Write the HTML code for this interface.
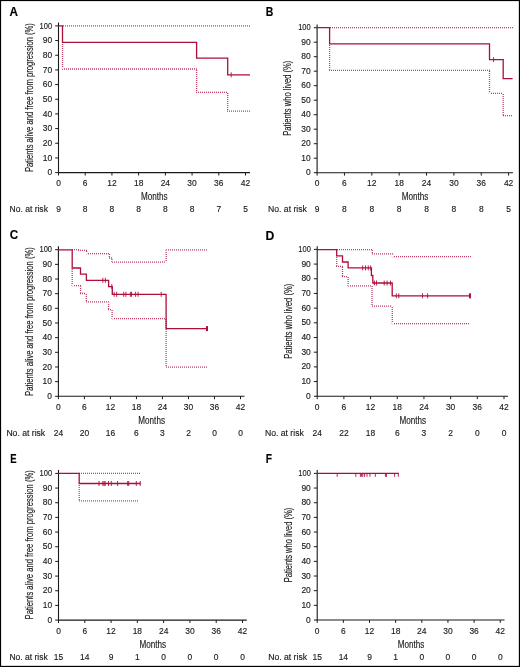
<!DOCTYPE html><html><head><meta charset="utf-8"><style>html,body{margin:0;padding:0;background:#fff;width:520px;height:667px;overflow:hidden}svg{display:block;will-change:transform}text{font-family:"Liberation Sans", sans-serif;stroke:#1a1a1a;stroke-width:0.14px}</style></head><body>
<svg width="520" height="667" viewBox="0 0 520 667">
<rect x="0" y="0" width="520" height="667" fill="#fff"/>
<g><text transform="translate(9.40 15.85) scale(0.960 1)" font-size="12.20" font-weight="bold" fill="#000">A</text><path d="M58.50 22.60V172.60H250.00" fill="none" stroke="#1a1a1a" stroke-width="1.1"/><path d="M55.20 172.60H58.50M55.20 157.93H58.50M55.20 143.26H58.50M55.20 128.59H58.50M55.20 113.92H58.50M55.20 99.25H58.50M55.20 84.58H58.50M55.20 69.91H58.50M55.20 55.24H58.50M55.20 40.57H58.50M55.20 25.90H58.50M58.50 172.60V175.50M85.21 172.60V175.50M111.93 172.60V175.50M138.64 172.60V175.50M165.36 172.60V175.50M192.07 172.60V175.50M218.79 172.60V175.50M245.50 172.60V175.50" fill="none" stroke="#1a1a1a" stroke-width="1"/><text transform="translate(52.10 175.20) scale(0.950 1)" font-size="8.90" text-anchor="end" fill="#1a1a1a">0</text><text transform="translate(52.10 160.53) scale(0.950 1)" font-size="8.90" text-anchor="end" fill="#1a1a1a">10</text><text transform="translate(52.10 145.86) scale(0.950 1)" font-size="8.90" text-anchor="end" fill="#1a1a1a">20</text><text transform="translate(52.10 131.19) scale(0.950 1)" font-size="8.90" text-anchor="end" fill="#1a1a1a">30</text><text transform="translate(52.10 116.52) scale(0.950 1)" font-size="8.90" text-anchor="end" fill="#1a1a1a">40</text><text transform="translate(52.10 101.85) scale(0.950 1)" font-size="8.90" text-anchor="end" fill="#1a1a1a">50</text><text transform="translate(52.10 87.18) scale(0.950 1)" font-size="8.90" text-anchor="end" fill="#1a1a1a">60</text><text transform="translate(52.10 72.51) scale(0.950 1)" font-size="8.90" text-anchor="end" fill="#1a1a1a">70</text><text transform="translate(52.10 57.84) scale(0.950 1)" font-size="8.90" text-anchor="end" fill="#1a1a1a">80</text><text transform="translate(52.10 43.17) scale(0.950 1)" font-size="8.90" text-anchor="end" fill="#1a1a1a">90</text><text transform="translate(52.10 28.50) scale(0.950 1)" font-size="8.90" text-anchor="end" fill="#1a1a1a" textLength="13.2" lengthAdjust="spacingAndGlyphs">100</text><text transform="translate(58.50 186.20) scale(0.950 1)" font-size="8.90" text-anchor="middle" fill="#1a1a1a">0</text><text transform="translate(85.21 186.20) scale(0.950 1)" font-size="8.90" text-anchor="middle" fill="#1a1a1a">6</text><text transform="translate(111.93 186.20) scale(0.950 1)" font-size="8.90" text-anchor="middle" fill="#1a1a1a">12</text><text transform="translate(138.64 186.20) scale(0.950 1)" font-size="8.90" text-anchor="middle" fill="#1a1a1a">18</text><text transform="translate(165.36 186.20) scale(0.950 1)" font-size="8.90" text-anchor="middle" fill="#1a1a1a">24</text><text transform="translate(192.07 186.20) scale(0.950 1)" font-size="8.90" text-anchor="middle" fill="#1a1a1a">30</text><text transform="translate(218.79 186.20) scale(0.950 1)" font-size="8.90" text-anchor="middle" fill="#1a1a1a">36</text><text transform="translate(245.50 186.20) scale(0.950 1)" font-size="8.90" text-anchor="middle" fill="#1a1a1a">42</text><text x="154.20" y="200.10" font-size="10.00" text-anchor="middle" fill="#1a1a1a" textLength="26.6" lengthAdjust="spacingAndGlyphs">Months</text><text x="9.50" y="212.20" font-size="8.5" fill="#1a1a1a" textLength="38.40" lengthAdjust="spacingAndGlyphs">No. at risk</text><text transform="translate(58.50 212.20) scale(0.950 1)" font-size="8.90" text-anchor="middle" fill="#1a1a1a">9</text><text transform="translate(85.21 212.20) scale(0.950 1)" font-size="8.90" text-anchor="middle" fill="#1a1a1a">8</text><text transform="translate(111.93 212.20) scale(0.950 1)" font-size="8.90" text-anchor="middle" fill="#1a1a1a">8</text><text transform="translate(138.64 212.20) scale(0.950 1)" font-size="8.90" text-anchor="middle" fill="#1a1a1a">8</text><text transform="translate(165.36 212.20) scale(0.950 1)" font-size="8.90" text-anchor="middle" fill="#1a1a1a">8</text><text transform="translate(192.07 212.20) scale(0.950 1)" font-size="8.90" text-anchor="middle" fill="#1a1a1a">8</text><text transform="translate(218.79 212.20) scale(0.950 1)" font-size="8.90" text-anchor="middle" fill="#1a1a1a">7</text><text transform="translate(245.50 212.20) scale(0.950 1)" font-size="8.90" text-anchor="middle" fill="#1a1a1a">5</text><text transform="translate(33.00 172.10) rotate(-90)" x="0" y="0" font-size="10.00" fill="#1a1a1a" textLength="149.00" lengthAdjust="spacingAndGlyphs">Patients alive and free from progression (%)</text><path d="M63 25.25h1v1.30h-1zM65 25.25h1v1.30h-1zM67 25.25h1v1.30h-1zM69 25.25h1v1.30h-1zM71 25.25h1v1.30h-1zM73 25.25h1v1.30h-1zM75 25.25h1v1.30h-1zM77 25.25h1v1.30h-1zM79 25.25h1v1.30h-1zM81 25.25h1v1.30h-1zM83 25.25h1v1.30h-1zM85 25.25h1v1.30h-1zM87 25.25h1v1.30h-1zM89 25.25h1v1.30h-1zM91 25.25h1v1.30h-1zM93 25.25h1v1.30h-1zM95 25.25h1v1.30h-1zM97 25.25h1v1.30h-1zM99 25.25h1v1.30h-1zM101 25.25h1v1.30h-1zM103 25.25h1v1.30h-1zM105 25.25h1v1.30h-1zM107 25.25h1v1.30h-1zM109 25.25h1v1.30h-1zM111 25.25h1v1.30h-1zM113 25.25h1v1.30h-1zM115 25.25h1v1.30h-1zM117 25.25h1v1.30h-1zM119 25.25h1v1.30h-1zM121 25.25h1v1.30h-1zM123 25.25h1v1.30h-1zM125 25.25h1v1.30h-1zM127 25.25h1v1.30h-1zM129 25.25h1v1.30h-1zM131 25.25h1v1.30h-1zM133 25.25h1v1.30h-1zM135 25.25h1v1.30h-1zM137 25.25h1v1.30h-1zM139 25.25h1v1.30h-1zM141 25.25h1v1.30h-1zM143 25.25h1v1.30h-1zM145 25.25h1v1.30h-1zM147 25.25h1v1.30h-1zM149 25.25h1v1.30h-1zM151 25.25h1v1.30h-1zM153 25.25h1v1.30h-1zM155 25.25h1v1.30h-1zM157 25.25h1v1.30h-1zM159 25.25h1v1.30h-1zM161 25.25h1v1.30h-1zM163 25.25h1v1.30h-1zM165 25.25h1v1.30h-1zM167 25.25h1v1.30h-1zM169 25.25h1v1.30h-1zM171 25.25h1v1.30h-1zM173 25.25h1v1.30h-1zM175 25.25h1v1.30h-1zM177 25.25h1v1.30h-1zM179 25.25h1v1.30h-1zM181 25.25h1v1.30h-1zM183 25.25h1v1.30h-1zM185 25.25h1v1.30h-1zM187 25.25h1v1.30h-1zM189 25.25h1v1.30h-1zM191 25.25h1v1.30h-1zM193 25.25h1v1.30h-1zM195 25.25h1v1.30h-1zM197 25.25h1v1.30h-1zM199 25.25h1v1.30h-1zM201 25.25h1v1.30h-1zM203 25.25h1v1.30h-1zM205 25.25h1v1.30h-1zM207 25.25h1v1.30h-1zM209 25.25h1v1.30h-1zM211 25.25h1v1.30h-1zM213 25.25h1v1.30h-1zM215 25.25h1v1.30h-1zM217 25.25h1v1.30h-1zM219 25.25h1v1.30h-1zM221 25.25h1v1.30h-1zM223 25.25h1v1.30h-1zM225 25.25h1v1.30h-1zM227 25.25h1v1.30h-1zM229 25.25h1v1.30h-1zM231 25.25h1v1.30h-1zM233 25.25h1v1.30h-1zM235 25.25h1v1.30h-1zM237 25.25h1v1.30h-1zM239 25.25h1v1.30h-1zM241 25.25h1v1.30h-1zM243 25.25h1v1.30h-1zM245 25.25h1v1.30h-1zM247 25.25h1v1.30h-1zM249 25.25h1v1.30h-1zM61.85 44v1h1.30v-1zM61.85 46v1h1.30v-1zM61.85 48v1h1.30v-1zM61.85 50v1h1.30v-1zM61.85 52v1h1.30v-1zM61.85 54v1h1.30v-1zM61.85 56v1h1.30v-1zM61.85 58v1h1.30v-1zM61.85 60v1h1.30v-1zM61.85 62v1h1.30v-1zM61.85 64v1h1.30v-1zM61.85 66v1h1.30v-1zM61.85 68v1h1.30v-1zM62 68.35h1v1.30h-1zM64 68.35h1v1.30h-1zM66 68.35h1v1.30h-1zM68 68.35h1v1.30h-1zM70 68.35h1v1.30h-1zM72 68.35h1v1.30h-1zM74 68.35h1v1.30h-1zM76 68.35h1v1.30h-1zM78 68.35h1v1.30h-1zM80 68.35h1v1.30h-1zM82 68.35h1v1.30h-1zM84 68.35h1v1.30h-1zM86 68.35h1v1.30h-1zM88 68.35h1v1.30h-1zM90 68.35h1v1.30h-1zM92 68.35h1v1.30h-1zM94 68.35h1v1.30h-1zM96 68.35h1v1.30h-1zM98 68.35h1v1.30h-1zM100 68.35h1v1.30h-1zM102 68.35h1v1.30h-1zM104 68.35h1v1.30h-1zM106 68.35h1v1.30h-1zM108 68.35h1v1.30h-1zM110 68.35h1v1.30h-1zM112 68.35h1v1.30h-1zM114 68.35h1v1.30h-1zM116 68.35h1v1.30h-1zM118 68.35h1v1.30h-1zM120 68.35h1v1.30h-1zM122 68.35h1v1.30h-1zM124 68.35h1v1.30h-1zM126 68.35h1v1.30h-1zM128 68.35h1v1.30h-1zM130 68.35h1v1.30h-1zM132 68.35h1v1.30h-1zM134 68.35h1v1.30h-1zM136 68.35h1v1.30h-1zM138 68.35h1v1.30h-1zM140 68.35h1v1.30h-1zM142 68.35h1v1.30h-1zM144 68.35h1v1.30h-1zM146 68.35h1v1.30h-1zM148 68.35h1v1.30h-1zM150 68.35h1v1.30h-1zM152 68.35h1v1.30h-1zM154 68.35h1v1.30h-1zM156 68.35h1v1.30h-1zM158 68.35h1v1.30h-1zM160 68.35h1v1.30h-1zM162 68.35h1v1.30h-1zM164 68.35h1v1.30h-1zM166 68.35h1v1.30h-1zM168 68.35h1v1.30h-1zM170 68.35h1v1.30h-1zM172 68.35h1v1.30h-1zM174 68.35h1v1.30h-1zM176 68.35h1v1.30h-1zM178 68.35h1v1.30h-1zM180 68.35h1v1.30h-1zM182 68.35h1v1.30h-1zM184 68.35h1v1.30h-1zM186 68.35h1v1.30h-1zM188 68.35h1v1.30h-1zM190 68.35h1v1.30h-1zM192 68.35h1v1.30h-1zM194 68.35h1v1.30h-1zM196 68.35h1v1.30h-1zM195.95 70v1h1.30v-1zM195.95 72v1h1.30v-1zM195.95 74v1h1.30v-1zM195.95 76v1h1.30v-1zM195.95 78v1h1.30v-1zM195.95 80v1h1.30v-1zM195.95 82v1h1.30v-1zM195.95 84v1h1.30v-1zM195.95 86v1h1.30v-1zM195.95 88v1h1.30v-1zM195.95 90v1h1.30v-1zM196 91.65h1v1.30h-1zM198 91.65h1v1.30h-1zM200 91.65h1v1.30h-1zM202 91.65h1v1.30h-1zM204 91.65h1v1.30h-1zM206 91.65h1v1.30h-1zM208 91.65h1v1.30h-1zM210 91.65h1v1.30h-1zM212 91.65h1v1.30h-1zM214 91.65h1v1.30h-1zM216 91.65h1v1.30h-1zM218 91.65h1v1.30h-1zM220 91.65h1v1.30h-1zM222 91.65h1v1.30h-1zM224 91.65h1v1.30h-1zM226 91.65h1v1.30h-1zM227.05 93v1h1.30v-1zM227.05 95v1h1.30v-1zM227.05 97v1h1.30v-1zM227.05 99v1h1.30v-1zM227.05 101v1h1.30v-1zM227.05 103v1h1.30v-1zM227.05 105v1h1.30v-1zM227.05 107v1h1.30v-1zM227.05 109v1h1.30v-1zM227 110.55h1v1.30h-1zM229 110.55h1v1.30h-1zM231 110.55h1v1.30h-1zM233 110.55h1v1.30h-1zM235 110.55h1v1.30h-1zM237 110.55h1v1.30h-1zM239 110.55h1v1.30h-1zM241 110.55h1v1.30h-1zM243 110.55h1v1.30h-1zM245 110.55h1v1.30h-1zM247 110.55h1v1.30h-1zM249 110.55h1v1.30h-1z" fill="#ad0f3b" fill-opacity="0.80"/><path d="M58.50 25.90L62.50 25.90L62.50 42.30L196.60 42.30L196.60 58.20L227.70 58.20L227.70 74.80L250.00 74.80" fill="none" stroke="#ad0f3b" stroke-width="1.3"/><path d="M231.20 72.30V77.30" fill="none" stroke="#ad0f3b" stroke-width="0.9"/></g>
<g><text transform="translate(265.67 15.65) scale(0.860 1)" font-size="12.20" font-weight="bold" fill="#000">B</text><path d="M317.10 24.50V172.70H513.00" fill="none" stroke="#1a1a1a" stroke-width="1.1"/><path d="M313.80 172.70H317.10M313.80 158.20H317.10M313.80 143.70H317.10M313.80 129.20H317.10M313.80 114.70H317.10M313.80 100.20H317.10M313.80 85.70H317.10M313.80 71.20H317.10M313.80 56.70H317.10M313.80 42.20H317.10M313.80 27.70H317.10M317.10 172.70V175.60M344.46 172.70V175.60M371.81 172.70V175.60M399.17 172.70V175.60M426.53 172.70V175.60M453.89 172.70V175.60M481.24 172.70V175.60M508.60 172.70V175.60" fill="none" stroke="#1a1a1a" stroke-width="1"/><text transform="translate(310.70 175.30) scale(0.950 1)" font-size="8.90" text-anchor="end" fill="#1a1a1a">0</text><text transform="translate(310.70 160.80) scale(0.950 1)" font-size="8.90" text-anchor="end" fill="#1a1a1a">10</text><text transform="translate(310.70 146.30) scale(0.950 1)" font-size="8.90" text-anchor="end" fill="#1a1a1a">20</text><text transform="translate(310.70 131.80) scale(0.950 1)" font-size="8.90" text-anchor="end" fill="#1a1a1a">30</text><text transform="translate(310.70 117.30) scale(0.950 1)" font-size="8.90" text-anchor="end" fill="#1a1a1a">40</text><text transform="translate(310.70 102.80) scale(0.950 1)" font-size="8.90" text-anchor="end" fill="#1a1a1a">50</text><text transform="translate(310.70 88.30) scale(0.950 1)" font-size="8.90" text-anchor="end" fill="#1a1a1a">60</text><text transform="translate(310.70 73.80) scale(0.950 1)" font-size="8.90" text-anchor="end" fill="#1a1a1a">70</text><text transform="translate(310.70 59.30) scale(0.950 1)" font-size="8.90" text-anchor="end" fill="#1a1a1a">80</text><text transform="translate(310.70 44.80) scale(0.950 1)" font-size="8.90" text-anchor="end" fill="#1a1a1a">90</text><text transform="translate(310.70 30.30) scale(0.950 1)" font-size="8.90" text-anchor="end" fill="#1a1a1a" textLength="13.2" lengthAdjust="spacingAndGlyphs">100</text><text transform="translate(317.10 186.30) scale(0.950 1)" font-size="8.90" text-anchor="middle" fill="#1a1a1a">0</text><text transform="translate(344.46 186.30) scale(0.950 1)" font-size="8.90" text-anchor="middle" fill="#1a1a1a">6</text><text transform="translate(371.81 186.30) scale(0.950 1)" font-size="8.90" text-anchor="middle" fill="#1a1a1a">12</text><text transform="translate(399.17 186.30) scale(0.950 1)" font-size="8.90" text-anchor="middle" fill="#1a1a1a">18</text><text transform="translate(426.53 186.30) scale(0.950 1)" font-size="8.90" text-anchor="middle" fill="#1a1a1a">24</text><text transform="translate(453.89 186.30) scale(0.950 1)" font-size="8.90" text-anchor="middle" fill="#1a1a1a">30</text><text transform="translate(481.24 186.30) scale(0.950 1)" font-size="8.90" text-anchor="middle" fill="#1a1a1a">36</text><text transform="translate(508.60 186.30) scale(0.950 1)" font-size="8.90" text-anchor="middle" fill="#1a1a1a">42</text><text x="415.05" y="200.20" font-size="10.00" text-anchor="middle" fill="#1a1a1a" textLength="26.6" lengthAdjust="spacingAndGlyphs">Months</text><text x="268.10" y="212.30" font-size="8.5" fill="#1a1a1a" textLength="38.70" lengthAdjust="spacingAndGlyphs">No. at risk</text><text transform="translate(317.10 212.30) scale(0.950 1)" font-size="8.90" text-anchor="middle" fill="#1a1a1a">9</text><text transform="translate(344.46 212.30) scale(0.950 1)" font-size="8.90" text-anchor="middle" fill="#1a1a1a">8</text><text transform="translate(371.81 212.30) scale(0.950 1)" font-size="8.90" text-anchor="middle" fill="#1a1a1a">8</text><text transform="translate(399.17 212.30) scale(0.950 1)" font-size="8.90" text-anchor="middle" fill="#1a1a1a">8</text><text transform="translate(426.53 212.30) scale(0.950 1)" font-size="8.90" text-anchor="middle" fill="#1a1a1a">8</text><text transform="translate(453.89 212.30) scale(0.950 1)" font-size="8.90" text-anchor="middle" fill="#1a1a1a">8</text><text transform="translate(481.24 212.30) scale(0.950 1)" font-size="8.90" text-anchor="middle" fill="#1a1a1a">8</text><text transform="translate(508.60 212.30) scale(0.950 1)" font-size="8.90" text-anchor="middle" fill="#1a1a1a">5</text><text transform="translate(291.30 135.80) rotate(-90)" x="0" y="0" font-size="10.00" fill="#1a1a1a" textLength="75.10" lengthAdjust="spacingAndGlyphs">Patients who lived (%)</text><path d="M330 27.05h1v1.30h-1zM332 27.05h1v1.30h-1zM334 27.05h1v1.30h-1zM336 27.05h1v1.30h-1zM338 27.05h1v1.30h-1zM340 27.05h1v1.30h-1zM342 27.05h1v1.30h-1zM344 27.05h1v1.30h-1zM346 27.05h1v1.30h-1zM348 27.05h1v1.30h-1zM350 27.05h1v1.30h-1zM352 27.05h1v1.30h-1zM354 27.05h1v1.30h-1zM356 27.05h1v1.30h-1zM358 27.05h1v1.30h-1zM360 27.05h1v1.30h-1zM362 27.05h1v1.30h-1zM364 27.05h1v1.30h-1zM366 27.05h1v1.30h-1zM368 27.05h1v1.30h-1zM370 27.05h1v1.30h-1zM372 27.05h1v1.30h-1zM374 27.05h1v1.30h-1zM376 27.05h1v1.30h-1zM378 27.05h1v1.30h-1zM380 27.05h1v1.30h-1zM382 27.05h1v1.30h-1zM384 27.05h1v1.30h-1zM386 27.05h1v1.30h-1zM388 27.05h1v1.30h-1zM390 27.05h1v1.30h-1zM392 27.05h1v1.30h-1zM394 27.05h1v1.30h-1zM396 27.05h1v1.30h-1zM398 27.05h1v1.30h-1zM400 27.05h1v1.30h-1zM402 27.05h1v1.30h-1zM404 27.05h1v1.30h-1zM406 27.05h1v1.30h-1zM408 27.05h1v1.30h-1zM410 27.05h1v1.30h-1zM412 27.05h1v1.30h-1zM414 27.05h1v1.30h-1zM416 27.05h1v1.30h-1zM418 27.05h1v1.30h-1zM420 27.05h1v1.30h-1zM422 27.05h1v1.30h-1zM424 27.05h1v1.30h-1zM426 27.05h1v1.30h-1zM428 27.05h1v1.30h-1zM430 27.05h1v1.30h-1zM432 27.05h1v1.30h-1zM434 27.05h1v1.30h-1zM436 27.05h1v1.30h-1zM438 27.05h1v1.30h-1zM440 27.05h1v1.30h-1zM442 27.05h1v1.30h-1zM444 27.05h1v1.30h-1zM446 27.05h1v1.30h-1zM448 27.05h1v1.30h-1zM450 27.05h1v1.30h-1zM452 27.05h1v1.30h-1zM454 27.05h1v1.30h-1zM456 27.05h1v1.30h-1zM458 27.05h1v1.30h-1zM460 27.05h1v1.30h-1zM462 27.05h1v1.30h-1zM464 27.05h1v1.30h-1zM466 27.05h1v1.30h-1zM468 27.05h1v1.30h-1zM470 27.05h1v1.30h-1zM472 27.05h1v1.30h-1zM474 27.05h1v1.30h-1zM476 27.05h1v1.30h-1zM478 27.05h1v1.30h-1zM480 27.05h1v1.30h-1zM482 27.05h1v1.30h-1zM484 27.05h1v1.30h-1zM486 27.05h1v1.30h-1zM488 27.05h1v1.30h-1zM490 27.05h1v1.30h-1zM492 27.05h1v1.30h-1zM494 27.05h1v1.30h-1zM496 27.05h1v1.30h-1zM498 27.05h1v1.30h-1zM500 27.05h1v1.30h-1zM502 27.05h1v1.30h-1zM504 27.05h1v1.30h-1zM506 27.05h1v1.30h-1zM508 27.05h1v1.30h-1zM510 27.05h1v1.30h-1zM512 27.05h1v1.30h-1zM328.95 45v1h1.30v-1zM328.95 47v1h1.30v-1zM328.95 49v1h1.30v-1zM328.95 51v1h1.30v-1zM328.95 53v1h1.30v-1zM328.95 55v1h1.30v-1zM328.95 57v1h1.30v-1zM328.95 59v1h1.30v-1zM328.95 61v1h1.30v-1zM328.95 63v1h1.30v-1zM328.95 65v1h1.30v-1zM328.95 67v1h1.30v-1zM328.95 69v1h1.30v-1zM329 69.65h1v1.30h-1zM331 69.65h1v1.30h-1zM333 69.65h1v1.30h-1zM335 69.65h1v1.30h-1zM337 69.65h1v1.30h-1zM339 69.65h1v1.30h-1zM341 69.65h1v1.30h-1zM343 69.65h1v1.30h-1zM345 69.65h1v1.30h-1zM347 69.65h1v1.30h-1zM349 69.65h1v1.30h-1zM351 69.65h1v1.30h-1zM353 69.65h1v1.30h-1zM355 69.65h1v1.30h-1zM357 69.65h1v1.30h-1zM359 69.65h1v1.30h-1zM361 69.65h1v1.30h-1zM363 69.65h1v1.30h-1zM365 69.65h1v1.30h-1zM367 69.65h1v1.30h-1zM369 69.65h1v1.30h-1zM371 69.65h1v1.30h-1zM373 69.65h1v1.30h-1zM375 69.65h1v1.30h-1zM377 69.65h1v1.30h-1zM379 69.65h1v1.30h-1zM381 69.65h1v1.30h-1zM383 69.65h1v1.30h-1zM385 69.65h1v1.30h-1zM387 69.65h1v1.30h-1zM389 69.65h1v1.30h-1zM391 69.65h1v1.30h-1zM393 69.65h1v1.30h-1zM395 69.65h1v1.30h-1zM397 69.65h1v1.30h-1zM399 69.65h1v1.30h-1zM401 69.65h1v1.30h-1zM403 69.65h1v1.30h-1zM405 69.65h1v1.30h-1zM407 69.65h1v1.30h-1zM409 69.65h1v1.30h-1zM411 69.65h1v1.30h-1zM413 69.65h1v1.30h-1zM415 69.65h1v1.30h-1zM417 69.65h1v1.30h-1zM419 69.65h1v1.30h-1zM421 69.65h1v1.30h-1zM423 69.65h1v1.30h-1zM425 69.65h1v1.30h-1zM427 69.65h1v1.30h-1zM429 69.65h1v1.30h-1zM431 69.65h1v1.30h-1zM433 69.65h1v1.30h-1zM435 69.65h1v1.30h-1zM437 69.65h1v1.30h-1zM439 69.65h1v1.30h-1zM441 69.65h1v1.30h-1zM443 69.65h1v1.30h-1zM445 69.65h1v1.30h-1zM447 69.65h1v1.30h-1zM449 69.65h1v1.30h-1zM451 69.65h1v1.30h-1zM453 69.65h1v1.30h-1zM455 69.65h1v1.30h-1zM457 69.65h1v1.30h-1zM459 69.65h1v1.30h-1zM461 69.65h1v1.30h-1zM463 69.65h1v1.30h-1zM465 69.65h1v1.30h-1zM467 69.65h1v1.30h-1zM469 69.65h1v1.30h-1zM471 69.65h1v1.30h-1zM473 69.65h1v1.30h-1zM475 69.65h1v1.30h-1zM477 69.65h1v1.30h-1zM479 69.65h1v1.30h-1zM481 69.65h1v1.30h-1zM483 69.65h1v1.30h-1zM485 69.65h1v1.30h-1zM487 69.65h1v1.30h-1zM489 69.65h1v1.30h-1zM488.85 71v1h1.30v-1zM488.85 73v1h1.30v-1zM488.85 75v1h1.30v-1zM488.85 77v1h1.30v-1zM488.85 79v1h1.30v-1zM488.85 81v1h1.30v-1zM488.85 83v1h1.30v-1zM488.85 85v1h1.30v-1zM488.85 87v1h1.30v-1zM488.85 89v1h1.30v-1zM488.85 91v1h1.30v-1zM488.85 93v1h1.30v-1zM489 92.75h1v1.30h-1zM491 92.75h1v1.30h-1zM493 92.75h1v1.30h-1zM495 92.75h1v1.30h-1zM497 92.75h1v1.30h-1zM499 92.75h1v1.30h-1zM501 92.75h1v1.30h-1zM502.55 94v1h1.30v-1zM502.55 96v1h1.30v-1zM502.55 98v1h1.30v-1zM502.55 100v1h1.30v-1zM502.55 102v1h1.30v-1zM502.55 104v1h1.30v-1zM502.55 106v1h1.30v-1zM502.55 108v1h1.30v-1zM502.55 110v1h1.30v-1zM502.55 112v1h1.30v-1zM502.55 114v1h1.30v-1zM503 115.05h1v1.30h-1zM505 115.05h1v1.30h-1zM507 115.05h1v1.30h-1zM509 115.05h1v1.30h-1zM511 115.05h1v1.30h-1z" fill="#ad0f3b" fill-opacity="0.80"/><path d="M317.10 27.70L329.60 27.70L329.60 43.90L489.50 43.90L489.50 59.60L503.20 59.60L503.20 78.60L512.60 78.60" fill="none" stroke="#ad0f3b" stroke-width="1.3"/><path d="M493.60 57.10V62.10" fill="none" stroke="#ad0f3b" stroke-width="0.9"/></g>
<g><text transform="translate(9.80 239.45) scale(0.960 1)" font-size="12.20" font-weight="bold" fill="#000">C</text><path d="M58.40 246.20V396.30H244.50" fill="none" stroke="#1a1a1a" stroke-width="1.1"/><path d="M55.10 396.30H58.40M55.10 381.64H58.40M55.10 366.98H58.40M55.10 352.32H58.40M55.10 337.66H58.40M55.10 323.00H58.40M55.10 308.34H58.40M55.10 293.68H58.40M55.10 279.02H58.40M55.10 264.36H58.40M55.10 249.70H58.40M58.40 396.30V399.20M84.41 396.30V399.20M110.43 396.30V399.20M136.44 396.30V399.20M162.46 396.30V399.20M188.47 396.30V399.20M214.49 396.30V399.20M240.50 396.30V399.20" fill="none" stroke="#1a1a1a" stroke-width="1"/><text transform="translate(52.00 398.90) scale(0.950 1)" font-size="8.90" text-anchor="end" fill="#1a1a1a">0</text><text transform="translate(52.00 384.24) scale(0.950 1)" font-size="8.90" text-anchor="end" fill="#1a1a1a">10</text><text transform="translate(52.00 369.58) scale(0.950 1)" font-size="8.90" text-anchor="end" fill="#1a1a1a">20</text><text transform="translate(52.00 354.92) scale(0.950 1)" font-size="8.90" text-anchor="end" fill="#1a1a1a">30</text><text transform="translate(52.00 340.26) scale(0.950 1)" font-size="8.90" text-anchor="end" fill="#1a1a1a">40</text><text transform="translate(52.00 325.60) scale(0.950 1)" font-size="8.90" text-anchor="end" fill="#1a1a1a">50</text><text transform="translate(52.00 310.94) scale(0.950 1)" font-size="8.90" text-anchor="end" fill="#1a1a1a">60</text><text transform="translate(52.00 296.28) scale(0.950 1)" font-size="8.90" text-anchor="end" fill="#1a1a1a">70</text><text transform="translate(52.00 281.62) scale(0.950 1)" font-size="8.90" text-anchor="end" fill="#1a1a1a">80</text><text transform="translate(52.00 266.96) scale(0.950 1)" font-size="8.90" text-anchor="end" fill="#1a1a1a">90</text><text transform="translate(52.00 252.30) scale(0.950 1)" font-size="8.90" text-anchor="end" fill="#1a1a1a" textLength="13.2" lengthAdjust="spacingAndGlyphs">100</text><text transform="translate(58.40 409.90) scale(0.950 1)" font-size="8.90" text-anchor="middle" fill="#1a1a1a">0</text><text transform="translate(84.41 409.90) scale(0.950 1)" font-size="8.90" text-anchor="middle" fill="#1a1a1a">6</text><text transform="translate(110.43 409.90) scale(0.950 1)" font-size="8.90" text-anchor="middle" fill="#1a1a1a">12</text><text transform="translate(136.44 409.90) scale(0.950 1)" font-size="8.90" text-anchor="middle" fill="#1a1a1a">18</text><text transform="translate(162.46 409.90) scale(0.950 1)" font-size="8.90" text-anchor="middle" fill="#1a1a1a">24</text><text transform="translate(188.47 409.90) scale(0.950 1)" font-size="8.90" text-anchor="middle" fill="#1a1a1a">30</text><text transform="translate(214.49 409.90) scale(0.950 1)" font-size="8.90" text-anchor="middle" fill="#1a1a1a">36</text><text transform="translate(240.50 409.90) scale(0.950 1)" font-size="8.90" text-anchor="middle" fill="#1a1a1a">42</text><text x="151.65" y="423.80" font-size="10.00" text-anchor="middle" fill="#1a1a1a" textLength="26.6" lengthAdjust="spacingAndGlyphs">Months</text><text x="6.40" y="435.90" font-size="8.5" fill="#1a1a1a" textLength="38.80" lengthAdjust="spacingAndGlyphs">No. at risk</text><text transform="translate(58.40 435.90) scale(0.950 1)" font-size="8.90" text-anchor="middle" fill="#1a1a1a">24</text><text transform="translate(84.41 435.90) scale(0.950 1)" font-size="8.90" text-anchor="middle" fill="#1a1a1a">20</text><text transform="translate(110.43 435.90) scale(0.950 1)" font-size="8.90" text-anchor="middle" fill="#1a1a1a">16</text><text transform="translate(136.44 435.90) scale(0.950 1)" font-size="8.90" text-anchor="middle" fill="#1a1a1a">6</text><text transform="translate(162.46 435.90) scale(0.950 1)" font-size="8.90" text-anchor="middle" fill="#1a1a1a">3</text><text transform="translate(188.47 435.90) scale(0.950 1)" font-size="8.90" text-anchor="middle" fill="#1a1a1a">2</text><text transform="translate(214.49 435.90) scale(0.950 1)" font-size="8.90" text-anchor="middle" fill="#1a1a1a">0</text><text transform="translate(240.50 435.90) scale(0.950 1)" font-size="8.90" text-anchor="middle" fill="#1a1a1a">0</text><text transform="translate(33.20 395.90) rotate(-90)" x="0" y="0" font-size="10.00" fill="#1a1a1a" textLength="148.70" lengthAdjust="spacingAndGlyphs">Patients alive and free from progression (%)</text><path d="M72 249.05h1v1.30h-1zM74 249.05h1v1.30h-1zM76 249.05h1v1.30h-1zM78 249.05h1v1.30h-1zM78 249.65h1v1.30h-1zM80 249.65h1v1.30h-1zM82 249.65h1v1.30h-1zM84 249.65h1v1.30h-1zM86 249.65h1v1.30h-1zM85.95 251v1h1.30v-1zM85.95 253v1h1.30v-1zM86 252.95h1v1.30h-1zM88 252.95h1v1.30h-1zM90 252.95h1v1.30h-1zM92 252.95h1v1.30h-1zM94 252.95h1v1.30h-1zM96 252.95h1v1.30h-1zM98 252.95h1v1.30h-1zM100 252.95h1v1.30h-1zM102 252.95h1v1.30h-1zM104 252.95h1v1.30h-1zM106 252.95h1v1.30h-1zM108 252.95h1v1.30h-1zM108.75 254v1h1.30v-1zM108.75 256v1h1.30v-1zM109 257.35h1v1.30h-1zM111 257.35h1v1.30h-1zM111.35 259v1h1.30v-1zM111.35 261v1h1.30v-1zM112 261.45h1v1.30h-1zM114 261.45h1v1.30h-1zM116 261.45h1v1.30h-1zM118 261.45h1v1.30h-1zM120 261.45h1v1.30h-1zM122 261.45h1v1.30h-1zM124 261.45h1v1.30h-1zM126 261.45h1v1.30h-1zM128 261.45h1v1.30h-1zM130 261.45h1v1.30h-1zM132 261.45h1v1.30h-1zM134 261.45h1v1.30h-1zM136 261.45h1v1.30h-1zM138 261.45h1v1.30h-1zM140 261.45h1v1.30h-1zM142 261.45h1v1.30h-1zM144 261.45h1v1.30h-1zM146 261.45h1v1.30h-1zM148 261.45h1v1.30h-1zM150 261.45h1v1.30h-1zM152 261.45h1v1.30h-1zM154 261.45h1v1.30h-1zM156 261.45h1v1.30h-1zM158 261.45h1v1.30h-1zM160 261.45h1v1.30h-1zM162 261.45h1v1.30h-1zM164 261.45h1v1.30h-1zM165.55 250v1h1.30v-1zM165.55 252v1h1.30v-1zM165.55 254v1h1.30v-1zM165.55 256v1h1.30v-1zM165.55 258v1h1.30v-1zM165.55 260v1h1.30v-1zM166 249.25h1v1.30h-1zM168 249.25h1v1.30h-1zM170 249.25h1v1.30h-1zM172 249.25h1v1.30h-1zM174 249.25h1v1.30h-1zM176 249.25h1v1.30h-1zM178 249.25h1v1.30h-1zM180 249.25h1v1.30h-1zM182 249.25h1v1.30h-1zM184 249.25h1v1.30h-1zM186 249.25h1v1.30h-1zM188 249.25h1v1.30h-1zM190 249.25h1v1.30h-1zM192 249.25h1v1.30h-1zM194 249.25h1v1.30h-1zM196 249.25h1v1.30h-1zM198 249.25h1v1.30h-1zM200 249.25h1v1.30h-1zM202 249.25h1v1.30h-1zM204 249.25h1v1.30h-1zM206 249.25h1v1.30h-1zM71.55 269v1h1.30v-1zM71.55 271v1h1.30v-1zM71.55 273v1h1.30v-1zM71.55 275v1h1.30v-1zM71.55 277v1h1.30v-1zM71.55 279v1h1.30v-1zM71.55 281v1h1.30v-1zM71.55 283v1h1.30v-1zM71.55 285v1h1.30v-1zM72 284.95h1v1.30h-1zM74 284.95h1v1.30h-1zM76 284.95h1v1.30h-1zM78 284.95h1v1.30h-1zM80 284.95h1v1.30h-1zM79.95 286v1h1.30v-1zM79.95 288v1h1.30v-1zM79.95 290v1h1.30v-1zM79.95 292v1h1.30v-1zM80 292.85h1v1.30h-1zM82 292.85h1v1.30h-1zM84 292.85h1v1.30h-1zM85.65 294v1h1.30v-1zM85.65 296v1h1.30v-1zM85.65 298v1h1.30v-1zM85.65 300v1h1.30v-1zM86 301.15h1v1.30h-1zM88 301.15h1v1.30h-1zM90 301.15h1v1.30h-1zM92 301.15h1v1.30h-1zM94 301.15h1v1.30h-1zM96 301.15h1v1.30h-1zM98 301.15h1v1.30h-1zM100 301.15h1v1.30h-1zM102 301.15h1v1.30h-1zM104 301.15h1v1.30h-1zM106 301.15h1v1.30h-1zM108 301.15h1v1.30h-1zM107.95 302v1h1.30v-1zM107.95 304v1h1.30v-1zM107.95 306v1h1.30v-1zM107.95 308v1h1.30v-1zM108 308.95h1v1.30h-1zM110 308.95h1v1.30h-1zM111.45 310v1h1.30v-1zM111.45 312v1h1.30v-1zM111.45 314v1h1.30v-1zM111.45 316v1h1.30v-1zM111.45 318v1h1.30v-1zM112 317.95h1v1.30h-1zM114 317.95h1v1.30h-1zM116 317.95h1v1.30h-1zM118 317.95h1v1.30h-1zM120 317.95h1v1.30h-1zM122 317.95h1v1.30h-1zM124 317.95h1v1.30h-1zM126 317.95h1v1.30h-1zM128 317.95h1v1.30h-1zM130 317.95h1v1.30h-1zM132 317.95h1v1.30h-1zM134 317.95h1v1.30h-1zM136 317.95h1v1.30h-1zM138 317.95h1v1.30h-1zM140 317.95h1v1.30h-1zM142 317.95h1v1.30h-1zM144 317.95h1v1.30h-1zM146 317.95h1v1.30h-1zM148 317.95h1v1.30h-1zM150 317.95h1v1.30h-1zM152 317.95h1v1.30h-1zM154 317.95h1v1.30h-1zM156 317.95h1v1.30h-1zM158 317.95h1v1.30h-1zM160 317.95h1v1.30h-1zM162 317.95h1v1.30h-1zM164 317.95h1v1.30h-1zM165.45 319v1h1.30v-1zM165.45 321v1h1.30v-1zM165.45 323v1h1.30v-1zM165.45 325v1h1.30v-1zM165.45 327v1h1.30v-1zM165.45 329v1h1.30v-1zM165.45 331v1h1.30v-1zM165.45 333v1h1.30v-1zM165.45 335v1h1.30v-1zM165.45 337v1h1.30v-1zM165.45 339v1h1.30v-1zM165.45 341v1h1.30v-1zM165.45 343v1h1.30v-1zM165.45 345v1h1.30v-1zM165.45 347v1h1.30v-1zM165.45 349v1h1.30v-1zM165.45 351v1h1.30v-1zM165.45 353v1h1.30v-1zM165.45 355v1h1.30v-1zM165.45 357v1h1.30v-1zM165.45 359v1h1.30v-1zM165.45 361v1h1.30v-1zM165.45 363v1h1.30v-1zM165.45 365v1h1.30v-1zM166 366.45h1v1.30h-1zM168 366.45h1v1.30h-1zM170 366.45h1v1.30h-1zM172 366.45h1v1.30h-1zM174 366.45h1v1.30h-1zM176 366.45h1v1.30h-1zM178 366.45h1v1.30h-1zM180 366.45h1v1.30h-1zM182 366.45h1v1.30h-1zM184 366.45h1v1.30h-1zM186 366.45h1v1.30h-1zM188 366.45h1v1.30h-1zM190 366.45h1v1.30h-1zM192 366.45h1v1.30h-1zM194 366.45h1v1.30h-1zM196 366.45h1v1.30h-1zM198 366.45h1v1.30h-1zM200 366.45h1v1.30h-1zM202 366.45h1v1.30h-1zM204 366.45h1v1.30h-1zM206 366.45h1v1.30h-1z" fill="#ad0f3b" fill-opacity="0.80"/><path d="M58.40 249.80L72.20 249.80L72.20 268.00L80.50 268.00L80.50 274.20L86.40 274.20L86.40 280.30L108.60 280.30L108.60 286.60L112.30 286.60L112.30 294.30L166.10 294.30L166.10 328.60L207.00 328.60" fill="none" stroke="#ad0f3b" stroke-width="1.3"/><path d="M102.80 277.80V282.80M105.40 277.80V282.80M111.80 284.10V289.10M114.20 291.80V296.80M116.70 291.80V296.80M123.70 291.80V296.80M125.90 291.80V296.80M130.40 291.80V296.80M131.50 291.80V296.80M135.60 291.80V296.80M138.10 291.80V296.80M161.20 291.80V296.80" fill="none" stroke="#ad0f3b" stroke-width="0.9"/><rect x="206.00" y="326.10" width="2" height="5" fill="#ad0f3b"/></g>
<g><text transform="translate(265.57 239.85) scale(1.000 1)" font-size="12.20" font-weight="bold" fill="#000">D</text><path d="M317.20 246.20V396.25H508.00" fill="none" stroke="#1a1a1a" stroke-width="1.1"/><path d="M313.90 396.25H317.20M313.90 381.56H317.20M313.90 366.88H317.20M313.90 352.19H317.20M313.90 337.51H317.20M313.90 322.82H317.20M313.90 308.14H317.20M313.90 293.45H317.20M313.90 278.77H317.20M313.90 264.09H317.20M313.90 249.40H317.20M317.20 396.25V399.15M343.89 396.25V399.15M370.57 396.25V399.15M397.26 396.25V399.15M423.94 396.25V399.15M450.63 396.25V399.15M477.31 396.25V399.15M504.00 396.25V399.15" fill="none" stroke="#1a1a1a" stroke-width="1"/><text transform="translate(310.80 398.85) scale(0.950 1)" font-size="8.90" text-anchor="end" fill="#1a1a1a">0</text><text transform="translate(310.80 384.17) scale(0.950 1)" font-size="8.90" text-anchor="end" fill="#1a1a1a">10</text><text transform="translate(310.80 369.48) scale(0.950 1)" font-size="8.90" text-anchor="end" fill="#1a1a1a">20</text><text transform="translate(310.80 354.80) scale(0.950 1)" font-size="8.90" text-anchor="end" fill="#1a1a1a">30</text><text transform="translate(310.80 340.11) scale(0.950 1)" font-size="8.90" text-anchor="end" fill="#1a1a1a">40</text><text transform="translate(310.80 325.43) scale(0.950 1)" font-size="8.90" text-anchor="end" fill="#1a1a1a">50</text><text transform="translate(310.80 310.74) scale(0.950 1)" font-size="8.90" text-anchor="end" fill="#1a1a1a">60</text><text transform="translate(310.80 296.06) scale(0.950 1)" font-size="8.90" text-anchor="end" fill="#1a1a1a">70</text><text transform="translate(310.80 281.37) scale(0.950 1)" font-size="8.90" text-anchor="end" fill="#1a1a1a">80</text><text transform="translate(310.80 266.69) scale(0.950 1)" font-size="8.90" text-anchor="end" fill="#1a1a1a">90</text><text transform="translate(310.80 252.00) scale(0.950 1)" font-size="8.90" text-anchor="end" fill="#1a1a1a" textLength="13.2" lengthAdjust="spacingAndGlyphs">100</text><text transform="translate(317.20 409.85) scale(0.950 1)" font-size="8.90" text-anchor="middle" fill="#1a1a1a">0</text><text transform="translate(343.89 409.85) scale(0.950 1)" font-size="8.90" text-anchor="middle" fill="#1a1a1a">6</text><text transform="translate(370.57 409.85) scale(0.950 1)" font-size="8.90" text-anchor="middle" fill="#1a1a1a">12</text><text transform="translate(397.26 409.85) scale(0.950 1)" font-size="8.90" text-anchor="middle" fill="#1a1a1a">18</text><text transform="translate(423.94 409.85) scale(0.950 1)" font-size="8.90" text-anchor="middle" fill="#1a1a1a">24</text><text transform="translate(450.63 409.85) scale(0.950 1)" font-size="8.90" text-anchor="middle" fill="#1a1a1a">30</text><text transform="translate(477.31 409.85) scale(0.950 1)" font-size="8.90" text-anchor="middle" fill="#1a1a1a">36</text><text transform="translate(504.00 409.85) scale(0.950 1)" font-size="8.90" text-anchor="middle" fill="#1a1a1a">42</text><text x="412.80" y="423.75" font-size="10.00" text-anchor="middle" fill="#1a1a1a" textLength="26.6" lengthAdjust="spacingAndGlyphs">Months</text><text x="264.90" y="435.85" font-size="8.5" fill="#1a1a1a" textLength="38.90" lengthAdjust="spacingAndGlyphs">No. at risk</text><text transform="translate(317.20 435.85) scale(0.950 1)" font-size="8.90" text-anchor="middle" fill="#1a1a1a">24</text><text transform="translate(343.89 435.85) scale(0.950 1)" font-size="8.90" text-anchor="middle" fill="#1a1a1a">22</text><text transform="translate(370.57 435.85) scale(0.950 1)" font-size="8.90" text-anchor="middle" fill="#1a1a1a">18</text><text transform="translate(397.26 435.85) scale(0.950 1)" font-size="8.90" text-anchor="middle" fill="#1a1a1a">6</text><text transform="translate(423.94 435.85) scale(0.950 1)" font-size="8.90" text-anchor="middle" fill="#1a1a1a">3</text><text transform="translate(450.63 435.85) scale(0.950 1)" font-size="8.90" text-anchor="middle" fill="#1a1a1a">2</text><text transform="translate(477.31 435.85) scale(0.950 1)" font-size="8.90" text-anchor="middle" fill="#1a1a1a">0</text><text transform="translate(504.00 435.85) scale(0.950 1)" font-size="8.90" text-anchor="middle" fill="#1a1a1a">0</text><text transform="translate(291.80 358.80) rotate(-90)" x="0" y="0" font-size="10.00" fill="#1a1a1a" textLength="75.00" lengthAdjust="spacingAndGlyphs">Patients who lived (%)</text><path d="M337 248.95h1v1.30h-1zM339 248.95h1v1.30h-1zM341 248.95h1v1.30h-1zM343 248.95h1v1.30h-1zM345 248.95h1v1.30h-1zM347 248.95h1v1.30h-1zM349 248.95h1v1.30h-1zM351 248.95h1v1.30h-1zM353 248.95h1v1.30h-1zM355 248.95h1v1.30h-1zM357 248.95h1v1.30h-1zM359 248.95h1v1.30h-1zM361 248.95h1v1.30h-1zM363 248.95h1v1.30h-1zM365 248.95h1v1.30h-1zM367 248.95h1v1.30h-1zM369 248.95h1v1.30h-1zM371 248.95h1v1.30h-1zM371.65 250v1h1.30v-1zM371.65 252v1h1.30v-1zM372 253.15h1v1.30h-1zM374 253.15h1v1.30h-1zM376 253.15h1v1.30h-1zM378 253.15h1v1.30h-1zM380 253.15h1v1.30h-1zM382 253.15h1v1.30h-1zM384 253.15h1v1.30h-1zM386 253.15h1v1.30h-1zM388 253.15h1v1.30h-1zM390 253.15h1v1.30h-1zM392 253.15h1v1.30h-1zM391.85 254v1h1.30v-1zM391.85 256v1h1.30v-1zM392 255.95h1v1.30h-1zM394 255.95h1v1.30h-1zM396 255.95h1v1.30h-1zM398 255.95h1v1.30h-1zM400 255.95h1v1.30h-1zM402 255.95h1v1.30h-1zM404 255.95h1v1.30h-1zM406 255.95h1v1.30h-1zM408 255.95h1v1.30h-1zM410 255.95h1v1.30h-1zM412 255.95h1v1.30h-1zM414 255.95h1v1.30h-1zM416 255.95h1v1.30h-1zM418 255.95h1v1.30h-1zM420 255.95h1v1.30h-1zM422 255.95h1v1.30h-1zM424 255.95h1v1.30h-1zM426 255.95h1v1.30h-1zM428 255.95h1v1.30h-1zM430 255.95h1v1.30h-1zM432 255.95h1v1.30h-1zM434 255.95h1v1.30h-1zM436 255.95h1v1.30h-1zM438 255.95h1v1.30h-1zM440 255.95h1v1.30h-1zM442 255.95h1v1.30h-1zM444 255.95h1v1.30h-1zM446 255.95h1v1.30h-1zM448 255.95h1v1.30h-1zM450 255.95h1v1.30h-1zM452 255.95h1v1.30h-1zM454 255.95h1v1.30h-1zM456 255.95h1v1.30h-1zM458 255.95h1v1.30h-1zM460 255.95h1v1.30h-1zM462 255.95h1v1.30h-1zM464 255.95h1v1.30h-1zM466 255.95h1v1.30h-1zM468 255.95h1v1.30h-1zM470 255.95h1v1.30h-1zM336.05 257v1h1.30v-1zM336.05 259v1h1.30v-1zM336.05 261v1h1.30v-1zM336.05 263v1h1.30v-1zM336.05 265v1h1.30v-1zM336 265.65h1v1.30h-1zM338 265.65h1v1.30h-1zM340 265.65h1v1.30h-1zM342 265.65h1v1.30h-1zM341.85 267v1h1.30v-1zM341.85 269v1h1.30v-1zM341.85 271v1h1.30v-1zM341.85 273v1h1.30v-1zM341.85 275v1h1.30v-1zM342 276.05h1v1.30h-1zM344 276.05h1v1.30h-1zM346 276.05h1v1.30h-1zM347.45 277v1h1.30v-1zM347.45 279v1h1.30v-1zM347.45 281v1h1.30v-1zM347.45 283v1h1.30v-1zM347.45 285v1h1.30v-1zM348 285.15h1v1.30h-1zM350 285.15h1v1.30h-1zM352 285.15h1v1.30h-1zM354 285.15h1v1.30h-1zM356 285.15h1v1.30h-1zM358 285.15h1v1.30h-1zM360 285.15h1v1.30h-1zM362 285.15h1v1.30h-1zM364 285.15h1v1.30h-1zM366 285.15h1v1.30h-1zM368 285.15h1v1.30h-1zM370 285.15h1v1.30h-1zM371.35 286v1h1.30v-1zM371.35 288v1h1.30v-1zM371.35 290v1h1.30v-1zM371.35 292v1h1.30v-1zM371.35 294v1h1.30v-1zM371.35 296v1h1.30v-1zM371.35 298v1h1.30v-1zM371.35 300v1h1.30v-1zM371.35 302v1h1.30v-1zM371.35 304v1h1.30v-1zM372 305.55h1v1.30h-1zM374 305.55h1v1.30h-1zM376 305.55h1v1.30h-1zM378 305.55h1v1.30h-1zM380 305.55h1v1.30h-1zM382 305.55h1v1.30h-1zM384 305.55h1v1.30h-1zM386 305.55h1v1.30h-1zM388 305.55h1v1.30h-1zM390 305.55h1v1.30h-1zM391.65 307v1h1.30v-1zM391.65 309v1h1.30v-1zM391.65 311v1h1.30v-1zM391.65 313v1h1.30v-1zM391.65 315v1h1.30v-1zM391.65 317v1h1.30v-1zM391.65 319v1h1.30v-1zM391.65 321v1h1.30v-1zM391.65 323v1h1.30v-1zM392 322.95h1v1.30h-1zM394 322.95h1v1.30h-1zM396 322.95h1v1.30h-1zM398 322.95h1v1.30h-1zM400 322.95h1v1.30h-1zM402 322.95h1v1.30h-1zM404 322.95h1v1.30h-1zM406 322.95h1v1.30h-1zM408 322.95h1v1.30h-1zM410 322.95h1v1.30h-1zM412 322.95h1v1.30h-1zM414 322.95h1v1.30h-1zM416 322.95h1v1.30h-1zM418 322.95h1v1.30h-1zM420 322.95h1v1.30h-1zM422 322.95h1v1.30h-1zM424 322.95h1v1.30h-1zM426 322.95h1v1.30h-1zM428 322.95h1v1.30h-1zM430 322.95h1v1.30h-1zM432 322.95h1v1.30h-1zM434 322.95h1v1.30h-1zM436 322.95h1v1.30h-1zM438 322.95h1v1.30h-1zM440 322.95h1v1.30h-1zM442 322.95h1v1.30h-1zM444 322.95h1v1.30h-1zM446 322.95h1v1.30h-1zM448 322.95h1v1.30h-1zM450 322.95h1v1.30h-1zM452 322.95h1v1.30h-1zM454 322.95h1v1.30h-1zM456 322.95h1v1.30h-1zM458 322.95h1v1.30h-1zM460 322.95h1v1.30h-1zM462 322.95h1v1.30h-1zM464 322.95h1v1.30h-1zM466 322.95h1v1.30h-1zM468 322.95h1v1.30h-1z" fill="#ad0f3b" fill-opacity="0.80"/><path d="M317.20 249.60L336.70 249.60L336.70 255.90L342.50 255.90L342.50 262.00L348.10 262.00L348.10 267.90L371.40 267.90L371.40 275.50L372.80 275.50L372.80 283.00L392.20 283.00L392.20 295.80L470.00 295.80" fill="none" stroke="#ad0f3b" stroke-width="1.3"/><path d="M362.65 265.40V270.40M365.50 265.40V270.40M368.25 265.40V270.40M370.60 265.40V270.40M374.40 280.50V285.50M376.50 280.50V285.50M384.20 280.50V285.50M387.10 280.50V285.50M390.50 280.50V285.50M396.30 293.30V298.30M398.80 293.30V298.30M422.50 293.30V298.30M427.60 293.30V298.30" fill="none" stroke="#ad0f3b" stroke-width="0.9"/><rect x="469.00" y="293.30" width="2" height="5" fill="#ad0f3b"/></g>
<g><text transform="translate(10.23 463.25) scale(0.780 1)" font-size="12.20" font-weight="bold" fill="#000">E</text><path d="M58.50 470.10V620.10H246.75" fill="none" stroke="#1a1a1a" stroke-width="1.1"/><path d="M55.20 620.10H58.50M55.20 605.43H58.50M55.20 590.76H58.50M55.20 576.09H58.50M55.20 561.42H58.50M55.20 546.75H58.50M55.20 532.08H58.50M55.20 517.41H58.50M55.20 502.74H58.50M55.20 488.07H58.50M55.20 473.40H58.50M58.50 620.10V623.00M84.79 620.10V623.00M111.07 620.10V623.00M137.36 620.10V623.00M163.64 620.10V623.00M189.93 620.10V623.00M216.21 620.10V623.00M242.50 620.10V623.00" fill="none" stroke="#1a1a1a" stroke-width="1"/><text transform="translate(52.10 622.70) scale(0.950 1)" font-size="8.90" text-anchor="end" fill="#1a1a1a">0</text><text transform="translate(52.10 608.03) scale(0.950 1)" font-size="8.90" text-anchor="end" fill="#1a1a1a">10</text><text transform="translate(52.10 593.36) scale(0.950 1)" font-size="8.90" text-anchor="end" fill="#1a1a1a">20</text><text transform="translate(52.10 578.69) scale(0.950 1)" font-size="8.90" text-anchor="end" fill="#1a1a1a">30</text><text transform="translate(52.10 564.02) scale(0.950 1)" font-size="8.90" text-anchor="end" fill="#1a1a1a">40</text><text transform="translate(52.10 549.35) scale(0.950 1)" font-size="8.90" text-anchor="end" fill="#1a1a1a">50</text><text transform="translate(52.10 534.68) scale(0.950 1)" font-size="8.90" text-anchor="end" fill="#1a1a1a">60</text><text transform="translate(52.10 520.01) scale(0.950 1)" font-size="8.90" text-anchor="end" fill="#1a1a1a">70</text><text transform="translate(52.10 505.34) scale(0.950 1)" font-size="8.90" text-anchor="end" fill="#1a1a1a">80</text><text transform="translate(52.10 490.67) scale(0.950 1)" font-size="8.90" text-anchor="end" fill="#1a1a1a">90</text><text transform="translate(52.10 476.00) scale(0.950 1)" font-size="8.90" text-anchor="end" fill="#1a1a1a" textLength="13.2" lengthAdjust="spacingAndGlyphs">100</text><text transform="translate(58.50 633.70) scale(0.950 1)" font-size="8.90" text-anchor="middle" fill="#1a1a1a">0</text><text transform="translate(84.79 633.70) scale(0.950 1)" font-size="8.90" text-anchor="middle" fill="#1a1a1a">6</text><text transform="translate(111.07 633.70) scale(0.950 1)" font-size="8.90" text-anchor="middle" fill="#1a1a1a">12</text><text transform="translate(137.36 633.70) scale(0.950 1)" font-size="8.90" text-anchor="middle" fill="#1a1a1a">18</text><text transform="translate(163.64 633.70) scale(0.950 1)" font-size="8.90" text-anchor="middle" fill="#1a1a1a">24</text><text transform="translate(189.93 633.70) scale(0.950 1)" font-size="8.90" text-anchor="middle" fill="#1a1a1a">30</text><text transform="translate(216.21 633.70) scale(0.950 1)" font-size="8.90" text-anchor="middle" fill="#1a1a1a">36</text><text transform="translate(242.50 633.70) scale(0.950 1)" font-size="8.90" text-anchor="middle" fill="#1a1a1a">42</text><text x="152.70" y="647.60" font-size="10.00" text-anchor="middle" fill="#1a1a1a" textLength="26.6" lengthAdjust="spacingAndGlyphs">Months</text><text x="9.40" y="659.70" font-size="8.5" fill="#1a1a1a" textLength="38.40" lengthAdjust="spacingAndGlyphs">No. at risk</text><text transform="translate(58.50 659.70) scale(0.950 1)" font-size="8.90" text-anchor="middle" fill="#1a1a1a">15</text><text transform="translate(84.79 659.70) scale(0.950 1)" font-size="8.90" text-anchor="middle" fill="#1a1a1a">14</text><text transform="translate(111.07 659.70) scale(0.950 1)" font-size="8.90" text-anchor="middle" fill="#1a1a1a">9</text><text transform="translate(137.36 659.70) scale(0.950 1)" font-size="8.90" text-anchor="middle" fill="#1a1a1a">1</text><text transform="translate(163.64 659.70) scale(0.950 1)" font-size="8.90" text-anchor="middle" fill="#1a1a1a">0</text><text transform="translate(189.93 659.70) scale(0.950 1)" font-size="8.90" text-anchor="middle" fill="#1a1a1a">0</text><text transform="translate(216.21 659.70) scale(0.950 1)" font-size="8.90" text-anchor="middle" fill="#1a1a1a">0</text><text transform="translate(242.50 659.70) scale(0.950 1)" font-size="8.90" text-anchor="middle" fill="#1a1a1a">0</text><text transform="translate(33.20 619.40) rotate(-90)" x="0" y="0" font-size="10.00" fill="#1a1a1a" textLength="149.20" lengthAdjust="spacingAndGlyphs">Patients alive and free from progression (%)</text><path d="M79 472.75h1v1.30h-1zM81 472.75h1v1.30h-1zM83 472.75h1v1.30h-1zM85 472.75h1v1.30h-1zM87 472.75h1v1.30h-1zM89 472.75h1v1.30h-1zM91 472.75h1v1.30h-1zM93 472.75h1v1.30h-1zM95 472.75h1v1.30h-1zM97 472.75h1v1.30h-1zM99 472.75h1v1.30h-1zM101 472.75h1v1.30h-1zM103 472.75h1v1.30h-1zM105 472.75h1v1.30h-1zM107 472.75h1v1.30h-1zM109 472.75h1v1.30h-1zM111 472.75h1v1.30h-1zM113 472.75h1v1.30h-1zM115 472.75h1v1.30h-1zM117 472.75h1v1.30h-1zM119 472.75h1v1.30h-1zM121 472.75h1v1.30h-1zM123 472.75h1v1.30h-1zM125 472.75h1v1.30h-1zM127 472.75h1v1.30h-1zM129 472.75h1v1.30h-1zM131 472.75h1v1.30h-1zM133 472.75h1v1.30h-1zM135 472.75h1v1.30h-1zM137 472.75h1v1.30h-1zM139 472.75h1v1.30h-1zM78.55 485v1h1.30v-1zM78.55 487v1h1.30v-1zM78.55 489v1h1.30v-1zM78.55 491v1h1.30v-1zM78.55 493v1h1.30v-1zM78.55 495v1h1.30v-1zM78.55 497v1h1.30v-1zM78.55 499v1h1.30v-1zM79 500.15h1v1.30h-1zM81 500.15h1v1.30h-1zM83 500.15h1v1.30h-1zM85 500.15h1v1.30h-1zM87 500.15h1v1.30h-1zM89 500.15h1v1.30h-1zM91 500.15h1v1.30h-1zM93 500.15h1v1.30h-1zM95 500.15h1v1.30h-1zM97 500.15h1v1.30h-1zM99 500.15h1v1.30h-1zM101 500.15h1v1.30h-1zM103 500.15h1v1.30h-1zM105 500.15h1v1.30h-1zM107 500.15h1v1.30h-1zM109 500.15h1v1.30h-1zM111 500.15h1v1.30h-1zM113 500.15h1v1.30h-1zM115 500.15h1v1.30h-1zM117 500.15h1v1.30h-1zM119 500.15h1v1.30h-1zM121 500.15h1v1.30h-1zM123 500.15h1v1.30h-1zM125 500.15h1v1.30h-1zM127 500.15h1v1.30h-1zM129 500.15h1v1.30h-1zM131 500.15h1v1.30h-1zM133 500.15h1v1.30h-1zM135 500.15h1v1.30h-1zM137 500.15h1v1.30h-1z" fill="#ad0f3b" fill-opacity="0.80"/><path d="M58.50 473.40L79.20 473.40L79.20 483.50L140.60 483.50" fill="none" stroke="#ad0f3b" stroke-width="1.3"/><path d="M99.00 481.00V486.00M102.90 481.00V486.00M104.10 481.00V486.00M105.10 481.00V486.00M108.50 481.00V486.00M111.30 481.00V486.00M117.60 481.00V486.00M127.70 481.00V486.00M128.70 481.00V486.00M136.30 481.00V486.00M140.20 481.00V486.00" fill="none" stroke="#ad0f3b" stroke-width="0.9"/></g>
<g><text transform="translate(265.69 463.25) scale(0.840 1)" font-size="12.20" font-weight="bold" fill="#000">F</text><path d="M317.20 470.00V620.00H504.50" fill="none" stroke="#1a1a1a" stroke-width="1.1"/><path d="M313.90 620.00H317.20M313.90 605.34H317.20M313.90 590.68H317.20M313.90 576.02H317.20M313.90 561.36H317.20M313.90 546.70H317.20M313.90 532.04H317.20M313.90 517.38H317.20M313.90 502.72H317.20M313.90 488.06H317.20M313.90 473.40H317.20M317.20 620.00V622.90M343.35 620.00V622.90M369.50 620.00V622.90M395.65 620.00V622.90M421.80 620.00V622.90M447.95 620.00V622.90M474.10 620.00V622.90M500.25 620.00V622.90" fill="none" stroke="#1a1a1a" stroke-width="1"/><text transform="translate(310.80 622.60) scale(0.950 1)" font-size="8.90" text-anchor="end" fill="#1a1a1a">0</text><text transform="translate(310.80 607.94) scale(0.950 1)" font-size="8.90" text-anchor="end" fill="#1a1a1a">10</text><text transform="translate(310.80 593.28) scale(0.950 1)" font-size="8.90" text-anchor="end" fill="#1a1a1a">20</text><text transform="translate(310.80 578.62) scale(0.950 1)" font-size="8.90" text-anchor="end" fill="#1a1a1a">30</text><text transform="translate(310.80 563.96) scale(0.950 1)" font-size="8.90" text-anchor="end" fill="#1a1a1a">40</text><text transform="translate(310.80 549.30) scale(0.950 1)" font-size="8.90" text-anchor="end" fill="#1a1a1a">50</text><text transform="translate(310.80 534.64) scale(0.950 1)" font-size="8.90" text-anchor="end" fill="#1a1a1a">60</text><text transform="translate(310.80 519.98) scale(0.950 1)" font-size="8.90" text-anchor="end" fill="#1a1a1a">70</text><text transform="translate(310.80 505.32) scale(0.950 1)" font-size="8.90" text-anchor="end" fill="#1a1a1a">80</text><text transform="translate(310.80 490.66) scale(0.950 1)" font-size="8.90" text-anchor="end" fill="#1a1a1a">90</text><text transform="translate(310.80 476.00) scale(0.950 1)" font-size="8.90" text-anchor="end" fill="#1a1a1a" textLength="13.2" lengthAdjust="spacingAndGlyphs">100</text><text transform="translate(317.20 633.60) scale(0.950 1)" font-size="8.90" text-anchor="middle" fill="#1a1a1a">0</text><text transform="translate(343.35 633.60) scale(0.950 1)" font-size="8.90" text-anchor="middle" fill="#1a1a1a">6</text><text transform="translate(369.50 633.60) scale(0.950 1)" font-size="8.90" text-anchor="middle" fill="#1a1a1a">12</text><text transform="translate(395.65 633.60) scale(0.950 1)" font-size="8.90" text-anchor="middle" fill="#1a1a1a">18</text><text transform="translate(421.80 633.60) scale(0.950 1)" font-size="8.90" text-anchor="middle" fill="#1a1a1a">24</text><text transform="translate(447.95 633.60) scale(0.950 1)" font-size="8.90" text-anchor="middle" fill="#1a1a1a">30</text><text transform="translate(474.10 633.60) scale(0.950 1)" font-size="8.90" text-anchor="middle" fill="#1a1a1a">36</text><text transform="translate(500.25 633.60) scale(0.950 1)" font-size="8.90" text-anchor="middle" fill="#1a1a1a">42</text><text x="410.93" y="647.50" font-size="10.00" text-anchor="middle" fill="#1a1a1a" textLength="26.6" lengthAdjust="spacingAndGlyphs">Months</text><text x="268.15" y="659.60" font-size="8.5" fill="#1a1a1a" textLength="38.90" lengthAdjust="spacingAndGlyphs">No. at risk</text><text transform="translate(317.20 659.60) scale(0.950 1)" font-size="8.90" text-anchor="middle" fill="#1a1a1a">15</text><text transform="translate(343.35 659.60) scale(0.950 1)" font-size="8.90" text-anchor="middle" fill="#1a1a1a">14</text><text transform="translate(369.50 659.60) scale(0.950 1)" font-size="8.90" text-anchor="middle" fill="#1a1a1a">9</text><text transform="translate(395.65 659.60) scale(0.950 1)" font-size="8.90" text-anchor="middle" fill="#1a1a1a">1</text><text transform="translate(421.80 659.60) scale(0.950 1)" font-size="8.90" text-anchor="middle" fill="#1a1a1a">0</text><text transform="translate(447.95 659.60) scale(0.950 1)" font-size="8.90" text-anchor="middle" fill="#1a1a1a">0</text><text transform="translate(474.10 659.60) scale(0.950 1)" font-size="8.90" text-anchor="middle" fill="#1a1a1a">0</text><text transform="translate(500.25 659.60) scale(0.950 1)" font-size="8.90" text-anchor="middle" fill="#1a1a1a">0</text><text transform="translate(292.00 582.20) rotate(-90)" x="0" y="0" font-size="10.00" fill="#1a1a1a" textLength="74.50" lengthAdjust="spacingAndGlyphs">Patients who lived (%)</text><path d="M317.20 473.40L398.80 473.40" fill="none" stroke="#ad0f3b" stroke-width="1.3"/><path d="M337.20 473.40V476.80M355.80 473.40V476.80M360.40 473.40V476.80M361.60 473.40V476.80M362.80 473.40V476.80M364.60 473.40V476.80M367.00 473.40V476.80M370.00 473.40V476.80M375.30 473.40V476.80M385.40 473.40V476.80M386.50 473.40V476.80M394.60 473.40V476.80M398.30 473.40V476.80" fill="none" stroke="#ad0f3b" stroke-width="0.9"/></g>
<rect x="0" y="0" width="1.1" height="667" fill="#000"/>
<rect x="0" y="0" width="520" height="1.1" fill="#000"/>
<rect x="518.85" y="0" width="1.15" height="667" fill="#000"/>
<rect x="0" y="665.85" width="520" height="1.15" fill="#000"/>
</svg></body></html>
